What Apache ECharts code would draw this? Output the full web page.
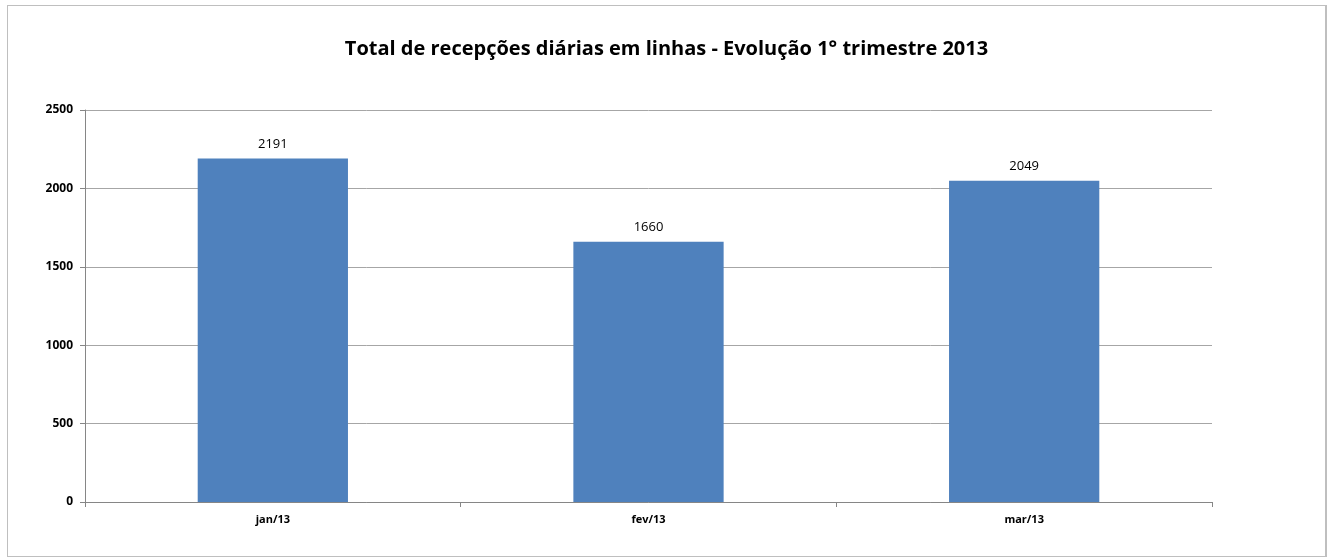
<!DOCTYPE html>
<html>
<head>
    <meta charset="utf-8">
    <script src="https://cdn.jsdelivr.net/npm/echarts@6/dist/echarts.min.js"></script>
    <style>
        body { margin: 0; background: #fff; }
        #main { position: absolute; left: 7px; top: 5px; width: 1317px; height: 550px; border: 1px solid #bfbfbf; border-right-width: 2px; }
    </style>
</head>
<body>
    <div id="main"></div>
    <script type="text/javascript">
        // dados
        var meses = ['jan/13', 'fev/13', 'mar/13'];
        var recepcoes = [2191, 1660, 2049];
        var yTicks = [0, 500, 1000, 1500, 2000, 2500];

        var fonte = '"Open Sans", "Liberation Sans", sans-serif';

        var option = {
            animation: false,
            title: {
                text: 'Total de recepções diárias em linhas - Evolução 1° trimestre 2013',
                left: 'center',
                top: 28,
                textStyle: {
                    fontFamily: fonte,
                    fontSize: 20,
                    fontWeight: 'bold',
                    color: '#000'
                }
            },
            grid: {
                left: 77,
                right: 113,
                top: 104,
                bottom: 54,
                containLabel: false
            },
            xAxis: {
                type: 'category',
                data: meses,
                boundaryGap: true,
                axisLine: { lineStyle: { color: '#868686', width: 1 } },
                axisTick: { show: true, alignWithLabel: false, length: 5, lineStyle: { color: '#868686' } },
                axisLabel: {
                    margin: 12,
                    fontFamily: fonte,
                    fontSize: 11,
                    fontWeight: 'bold',
                    color: '#000'
                },
                splitLine: { show: false }
            },
            yAxis: {
                type: 'value',
                min: yTicks[0],
                max: yTicks[yTicks.length - 1],
                interval: 500,
                axisLine: { show: true, lineStyle: { color: '#868686', width: 1 } },
                axisTick: { show: true, length: 5, lineStyle: { color: '#868686' } },
                axisLabel: {
                    margin: 12,
                    fontFamily: fonte,
                    fontSize: 12,
                    fontWeight: 'bold',
                    color: '#000',
                    formatter: function (v) { return String(v); }
                },
                splitLine: { show: true, lineStyle: { color: '#a6a6a6', width: 1 } }
            },
            series: [
                {
                    name: 'Recepções',
                    type: 'bar',
                    data: recepcoes,
                    barWidth: '40%',
                    itemStyle: { color: '#4f81bd' },
                    label: {
                        show: true,
                        position: 'top',
                        distance: 8,
                        fontFamily: fonte,
                        fontSize: 13,
                        color: '#000'
                    }
                }
            ]
        };

        var myChart = echarts.init(document.getElementById('main'));
        myChart.setOption(option);
    </script>
</body>
</html>
